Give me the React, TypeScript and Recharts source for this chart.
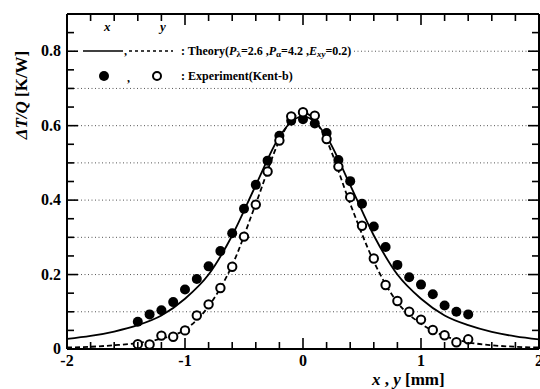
import {
  ComposedChart,
  Line,
  ReferenceLine,
  Scatter,
  XAxis,
  YAxis,
} from 'recharts'

// theory curves, x and y direction
const theoryPos = [-2, -1.8, -1.6, -1.4, -1.2, -1.0, -0.8, -0.6, -0.4, -0.2, -0.1, 0, 0.1, 0.2, 0.4, 0.6, 0.8, 1.0, 1.2, 1.4, 1.6, 1.8, 2.0]
const theoryX = [0.027, 0.035, 0.047, 0.064, 0.09, 0.135, 0.2, 0.305, 0.44, 0.57, 0.61, 0.625, 0.61, 0.57, 0.44, 0.305, 0.2, 0.135, 0.09, 0.064, 0.046, 0.034, 0.026]
const theoryY = [0.004, 0.006, 0.01, 0.016, 0.028, 0.052, 0.115, 0.225, 0.39, 0.56, 0.615, 0.635, 0.615, 0.56, 0.39, 0.235, 0.125, 0.068, 0.035, 0.018, 0.01, 0.006, 0.004]

// experiment (Kent-b)
const expPos = [-1.4, -1.3, -1.2, -1.1, -1.0, -0.9, -0.8, -0.7, -0.6, -0.5, -0.4, -0.3, -0.2, -0.1, 0, 0.1, 0.2, 0.3, 0.4, 0.5, 0.6, 0.7, 0.8, 0.9, 1.0, 1.1, 1.2, 1.3, 1.4]
const expX = [0.073, 0.093, 0.104, 0.126, 0.16, 0.188, 0.222, 0.263, 0.311, 0.377, 0.441, 0.506, 0.573, 0.613, 0.617, 0.606, 0.58, 0.508, 0.451, 0.39, 0.329, 0.274, 0.226, 0.193, 0.173, 0.147, 0.117, 0.1, 0.093]
const expY = [0.013, 0.012, 0.036, 0.033, 0.05, 0.09, 0.12, 0.164, 0.221, 0.302, 0.388, 0.477, 0.56, 0.625, 0.636, 0.627, 0.564, 0.49, 0.408, 0.331, 0.243, 0.172, 0.129, 0.1, 0.079, 0.051, 0.037, 0.018, 0.026]

const xTicks = [-2, -1.8, -1.6, -1.4, -1.2, -1, -0.8, -0.6, -0.4, -0.2, 0, 0.2, 0.4, 0.6, 0.8, 1, 1.2, 1.4, 1.6, 1.8, 2]
const yTicks = [0, 0.05, 0.1, 0.15, 0.2, 0.25, 0.3, 0.35, 0.4, 0.45, 0.5, 0.55, 0.6, 0.65, 0.7, 0.75, 0.8, 0.85]
const yLabels = [0, 0.2, 0.4, 0.6, 0.8]
const gridValues = [0.1, 0.2, 0.3, 0.4, 0.5, 0.6, 0.7, 0.8]

const theoryXData = theoryPos.map((p, i) => ({ p, v: theoryX[i] }))
const theoryYData = theoryPos.map((p, i) => ({ p, v: theoryY[i] }))
const expXData = expPos.map((p, i) => ({ p, v: expX[i] }))
const expYData = expPos.map((p, i) => ({ p, v: expY[i] }))

const serif = { fontFamily: "'Liberation Serif', serif", fontWeight: 700 }
const isMajorX = (v: number) => Math.abs(v - Math.round(v)) < 1e-6
const isMajorY = (v: number) => yLabels.some((l) => Math.abs(l - v) < 1e-6)

function BottomTick(props: any) {
  const { x, y, payload } = props
  const v = payload.value as number
  const major = isMajorX(v)
  return (
    <g>
      <line x1={x} x2={x} y1={y} y2={y - (major ? 11 : 7)} stroke="#000" strokeWidth={1.6} />
      {major && (
        <text x={x} y={y + 17} textAnchor="middle" style={{ ...serif, fontSize: 16 }} fill="#000">
          {v < 0 ? `-${Math.abs(v)}` : `${v}`}
        </text>
      )}
    </g>
  )
}

function TopTick(props: any) {
  const { x, y, payload } = props
  const major = isMajorX(payload.value)
  return <line x1={x} x2={x} y1={y} y2={y + (major ? 11 : 7)} stroke="#000" strokeWidth={1.6} />
}

function LeftTick(props: any) {
  const { x, y, payload } = props
  const v = payload.value as number
  const major = isMajorY(v)
  return (
    <g>
      <line x1={x} x2={x + (major ? 11 : 7)} y1={y} y2={y} stroke="#000" strokeWidth={1.6} />
      {major && (
        <text x={x - 6} y={y + 5} textAnchor="end" style={{ ...serif, fontSize: 16 }} fill="#000">
          {v === 0 ? '0' : v.toFixed(1)}
        </text>
      )}
    </g>
  )
}

function RightTick(props: any) {
  const { x, y, payload } = props
  const major = isMajorY(payload.value)
  return <line x1={x} x2={x - (major ? 11 : 7)} y1={y} y2={y} stroke="#000" strokeWidth={1.6} />
}

const FilledDot = (p: any) => <circle cx={p.cx} cy={p.cy} r={5} fill="#000" />
const OpenDot = (p: any) => <circle cx={p.cx} cy={p.cy} r={4.2} fill="#fff" stroke="#000" strokeWidth={2} />

function Legend() {
  const t = { ...serif, fontSize: 12 }
  return (
    <svg width={540} height={389} style={{ position: 'absolute', left: 0, top: 0, pointerEvents: 'none' }}>
      <rect x={78} y={44} width={274} height={14} fill="#fff" />
      <text x={104} y={31} style={{ ...t, fontStyle: 'italic', fontSize: 13 }}>x</text>
      <text x={160} y={31} style={{ ...t, fontStyle: 'italic', fontSize: 13 }}>y</text>
      <line x1={83} x2={123} y1={51} y2={51} stroke="#000" strokeWidth={1.6} />
      <text x={124} y={55} style={t}>,</text>
      <line x1={129} x2={173} y1={51} y2={51} stroke="#000" strokeWidth={1.6} strokeDasharray="3 3" />
      <text x={181} y={55} style={t}>
        : Theory(<tspan fontStyle="italic">P</tspan>
        <tspan fontSize={9} dy={2}>λ</tspan>
        <tspan dy={-2}>=2.6 ,</tspan>
        <tspan fontStyle="italic">P</tspan>
        <tspan fontSize={9} dy={2}>α</tspan>
        <tspan dy={-2}>=4.2 ,</tspan>
        <tspan fontStyle="italic">E</tspan>
        <tspan fontSize={9} fontStyle="italic" dy={2}>xy</tspan>
        <tspan dy={-2}>=0.2)</tspan>
      </text>
      <circle cx={104} cy={76} r={5} fill="#000" />
      <text x={127} y={82} style={t}>,</text>
      <circle cx={157} cy={76} r={4} fill="#fff" stroke="#000" strokeWidth={2} />
      <text x={181} y={80} style={t}>: Experiment(Kent-b)</text>
      <text transform="translate(27, 95) rotate(-90)" textAnchor="middle" style={{ ...serif, fontSize: 17 }} fill="#000">
        <tspan fontStyle="italic">ΔT/Q</tspan> [K/W]
      </text>
      <text x={372} y={385} style={{ ...serif, fontSize: 17 }} fill="#000">
        <tspan fontStyle="italic">x</tspan> , <tspan fontStyle="italic">y</tspan> [mm]
      </text>
    </svg>
  )
}

export default function App() {
  return (
    <div style={{ position: 'fixed', left: 0, top: 0, width: 540, height: 389, background: '#fff', overflow: 'hidden' }}>
      <ComposedChart width={540} height={389} margin={{ top: 13, right: 0, bottom: 0, left: 0 }}>
        <XAxis
          xAxisId="b"
          type="number"
          dataKey="p"
          domain={[-2, 2]}
          ticks={xTicks}
          interval={0}
          allowDataOverflow
          height={40}
          tickSize={0}
          tickMargin={0}
          tickLine={false}
          tick={<BottomTick />}
          axisLine={{ stroke: '#000', strokeWidth: 2 }}
        />
        <XAxis
          xAxisId="t"
          orientation="top"
          type="number"
          dataKey="p"
          domain={[-2, 2]}
          ticks={xTicks}
          interval={0}
          allowDataOverflow
          height={1}
          tickSize={0}
          tickMargin={0}
          tickLine={false}
          tick={<TopTick />}
          axisLine={{ stroke: '#000', strokeWidth: 2 }}
        />
        <YAxis
          yAxisId="l"
          type="number"
          domain={[0, 0.9]}
          ticks={yTicks}
          interval={0}
          allowDataOverflow
          width={67}
          tickSize={0}
          tickMargin={0}
          tickLine={false}
          tick={<LeftTick />}
          axisLine={{ stroke: '#000', strokeWidth: 2 }}
        />
        <YAxis
          yAxisId="r"
          orientation="right"
          type="number"
          domain={[0, 0.9]}
          ticks={yTicks}
          interval={0}
          allowDataOverflow
          width={1}
          tickSize={0}
          tickMargin={0}
          tickLine={false}
          tick={<RightTick />}
          axisLine={{ stroke: '#000', strokeWidth: 2 }}
        />
        {gridValues.map((g) => (
          <ReferenceLine key={g} xAxisId="b" yAxisId="l" y={g} stroke="#555" strokeWidth={1} strokeDasharray="1 2.5" />
        ))}
        <Line xAxisId="b" yAxisId="l" data={theoryXData} dataKey="v" type="monotone" stroke="#000" strokeWidth={1.8} dot={false} isAnimationActive={false} />
        <Line xAxisId="b" yAxisId="l" data={theoryYData} dataKey="v" type="monotone" stroke="#000" strokeWidth={1.8} strokeDasharray="5 3" dot={false} isAnimationActive={false} />
        <Scatter xAxisId="b" yAxisId="l" data={expXData} dataKey="v" shape={FilledDot} isAnimationActive={false} />
        <Scatter xAxisId="b" yAxisId="l" data={expYData} dataKey="v" shape={OpenDot} isAnimationActive={false} />
      </ComposedChart>
      <Legend />
    </div>
  )
}
